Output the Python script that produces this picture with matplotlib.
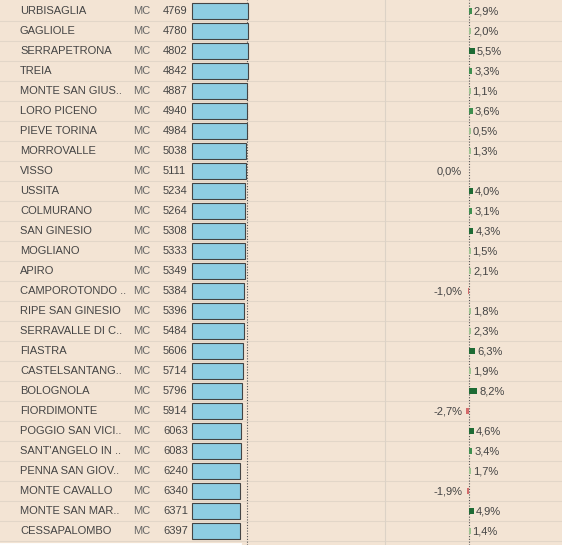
import matplotlib.pyplot as plt

names = ['URBISAGLIA', 'GAGLIOLE', 'SERRAPETRONA', 'TREIA', 'MONTE SAN GIUS..', 'LORO PICENO',
         'PIEVE TORINA', 'MORROVALLE', 'VISSO', 'USSITA', 'COLMURANO', 'SAN GINESIO',
         'MOGLIANO', 'APIRO', 'CAMPOROTONDO ..', 'RIPE SAN GINESIO', 'SERRAVALLE DI C..',
         'FIASTRA', 'CASTELSANTANG..', 'BOLOGNOLA', 'FIORDIMONTE', 'POGGIO SAN VICI..',
         "SANT'ANGELO IN ..", 'PENNA SAN GIOV..', 'MONTE CAVALLO', 'MONTE SAN MAR..',
         'CESSAPALOMBO']
values = [4769, 4780, 4802, 4842, 4887, 4940, 4984, 5038, 5111, 5234, 5264, 5308, 5333, 5349,
          5384, 5396, 5484, 5606, 5714, 5796, 5914, 6063, 6083, 6240, 6340, 6371, 6397]
pcts = [2.9, 2.0, 5.5, 3.3, 1.1, 3.6, 0.5, 1.3, 0.0, 4.0, 3.1, 4.3, 1.5, 2.1, -1.0, 1.8, 2.3,
        6.3, 1.9, 8.2, -2.7, 4.6, 3.4, 1.7, -1.9, 4.9, 1.4]

bg = '#f3e4d4'
fig = plt.figure(figsize=(5.62, 5.45), dpi=100, facecolor=bg)
ax = fig.add_axes([0, 0, 1, 1])
ax.set_facecolor(bg)
ax.set_xlim(0, 562)
ax.set_ylim(26.7, -0.55)
ax.axis('off')
plt.rcParams['font.family'] = ['Liberation Sans', 'DejaVu Sans']
fs = 8
tc = '#444444'

rows = list(range(len(names)))
# row separators
for r in rows:
    ax.axhline(r + 0.5, color='#e2d6c8', lw=0.8, zorder=0)
ax.axvline(385, color='#dcd2c6', lw=0.8, zorder=0)
ax.axvline(247, color='#555555', lw=0.8, ls=(0, (1, 1.5)), zorder=1)
ax.axvline(469, color='#555555', lw=0.8, ls=(0, (1, 1.5)), zorder=1)
ax.axhline(26.65, xmin=0, xmax=240 / 562, color='white', lw=2, zorder=3)

for r, n, v in zip(rows, names, values):
    ax.text(20, r, n, fontsize=fs, color=tc, va='center', ha='left')
    ax.text(133, r, 'MC', fontsize=fs, color='#666666', va='center', ha='left')
    ax.text(163, r, str(v), fontsize=fs, color=tc, va='center', ha='left')

# blue bars: shorter for larger values
widths = [56 * 4769 ** 0.55 / v ** 0.55 for v in values]
ax.barh(rows, widths, left=192, height=0.8, color='#8ecde2', edgecolor='#444444', lw=0.8, zorder=2)

def pcol(p):
    if p < 0:
        return '#d46a6a'
    if p >= 4:
        return '#1e6b34'
    if p >= 2.5:
        return '#3f8f4f'
    return '#9cc38f'

pw = [max(p, 1.5) if p > 0 else (min(p, -1.5) if p < 0 else 0) for p in pcts]
ax.barh(rows, pw, left=469, height=0.3, color=[pcol(p) for p in pcts], zorder=2)
for r, p, w in zip(rows, pcts, pw):
    lab = f'{p:.1f}%'.replace('.', ',')
    if p > 0:
        ax.text(469 + w + 2, r, lab, fontsize=fs, color=tc, va='center', ha='left')
    else:
        ax.text(462, r, lab, fontsize=fs, color=tc, va='center', ha='right')

fig.savefig('out.png', dpi=100, facecolor=bg)
